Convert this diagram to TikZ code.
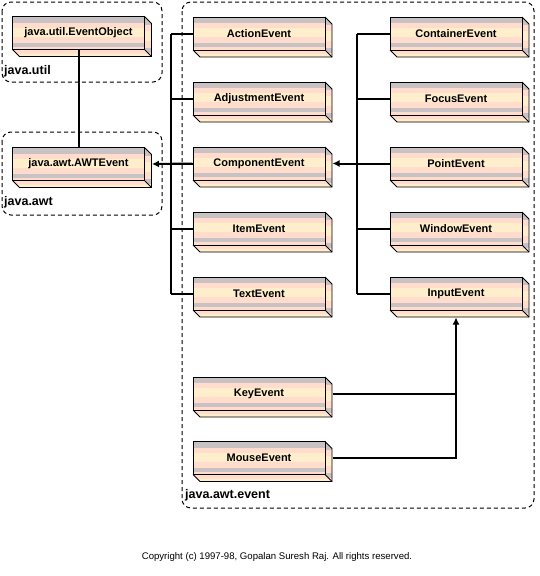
\documentclass[tikz,border=0pt]{standalone}
\usepackage{fontspec}
\setmainfont{Liberation Sans}
\usetikzlibrary{arrows.meta}
\definecolor{boxgray}{RGB}{200,194,196}
\definecolor{boxpink}{RGB}{255,220,204}
\definecolor{boxcream}{RGB}{255,238,204}
\tikzset{
  evbox/.style={draw=black, line width=1pt, minimum width=132pt, minimum height=33pt,
    inner sep=0pt, font=\bfseries\fontsize{11}{13}\selectfont},
  pkgframe/.style={draw=black, line width=1pt, dash pattern=on 4pt off 3pt, rounded corners=9pt},
  pkglabel/.style={anchor=base west, inner sep=0pt, font=\bfseries\fontsize{12.5}{14}\selectfont},
  link/.style={draw=black, line width=2pt},
  tip/.style={-{Latex[length=7pt,width=7pt]}}
}
\begin{document}
\begin{tikzpicture}[x=1pt, y=-1pt]
        \useasboundingbox (0,0) rectangle (539,576);
        % package frames
        \draw[pkgframe] (2,2) rectangle (162,82);
        \draw[pkgframe] (2,132) rectangle (162,215);
        \draw[pkgframe] (182,2) rectangle (534,508);
        \node[pkglabel] (utillbl) at (4,74) {java.util};
        \node[pkglabel] (awtlbl) at (4,205) {java.awt};
        \node[pkglabel] (eventlbl) at (185,498) {java.awt.event};
        % bus lines
        \coordinate (midbus) at (171,0);
        \coordinate (rightbus) at (357,0);
        % striped 3D boxes
        \foreach \n/\x/\y/\t in {obj/78.5/33/java.util.EventObject, awt/78.5/164/java.awt.AWTEvent,
            action/259/33.5/ActionEvent, adjust/259/98.5/AdjustmentEvent, component/259/163.5/ComponentEvent,
            item/259/228.5/ItemEvent, text/259/293.5/TextEvent, key/259/393.5/KeyEvent, mouse/259/458/MouseEvent,
            container/456/33.5/ContainerEvent, focus/456/98.5/FocusEvent, point/456/163.5/PointEvent,
            window/456/228.5/WindowEvent, input/456/293.5/InputEvent} {
            % front face
            \foreach \a/\b/\c in {0/6/boxgray, 6/11/boxpink, 11/20/boxcream, 20/26/boxpink, 26/30/boxgray, 30/33/boxpink}
                \fill[\c] (\x-66,\y-16.5+\a) rectangle (\x+66,\y-16.5+\b);
            % side face
            \begin{scope}
                \clip (\x+66,\y-16.5) -- ++(7,7) -- (\x+73,\y+23.5) -- (\x+66,\y+16.5) -- cycle;
                \foreach \a/\b/\c in {0/8/boxgray, 8/14/boxpink, 14/24/boxcream, 24/31/boxpink, 31/36/boxgray, 36/41/boxpink}
                    \fill[\c] (\x+66,\y-16.5+\a) rectangle (\x+73,\y-16.5+\b);
            \end{scope}
            % bottom face
            \fill[boxpink] (\x-66,\y+16.5) -- (\x-59,\y+23.5) -- (\x+73,\y+23.5) -- (\x+66,\y+16.5) -- cycle;
            \fill[boxcream] (\x-62,\y+20.5) -- (\x-59,\y+23.5) -- (\x+73,\y+23.5) -- (\x+70,\y+20.5) -- cycle;
            \draw[line width=0.8pt] (\x+66,\y-16.5) -- ++(7,7) -- (\x+73,\y+23.5) -- (\x-59,\y+23.5) -- (\x-66,\y+16.5);
            \draw[line width=0.8pt] (\x+66,\y+16.5) -- (\x+73,\y+23.5);
            \node[evbox] (\n) at (\x,\y) {\t};
        }
        % java.awt.AWTEvent extends java.util.EventObject
        \draw[link] (awt.north) -- (obj.south);
        % middle column
        \draw[link] (action.west -| midbus) -- (text.west -| midbus);
        \foreach \n in {action,adjust,component,item,text}
            \draw[link] (\n.west -| midbus) -- (\n.west);
        \draw[link,tip] (component.west) -- ([xshift=7pt]awt.east);
        % right column
        \draw[link] (container.west -| rightbus) -- (input.west -| rightbus);
        \foreach \n in {container,focus,point,window,input}
            \draw[link] (\n.west -| rightbus) -- (\n.west);
        \draw[link,tip] (component.east -| rightbus) -- ([xshift=7pt]component.east);
        % input events
        \draw[link] ([xshift=7pt]key.east) -- (key.east -| input.south);
        \draw[link,tip] ([xshift=7pt]mouse.east) -| ([yshift=-7pt]input.south);
        \node[font=\fontsize{9.6}{11}\selectfont] (copy) at (277,557) {Copyright (c) 1997-98, Gopalan Suresh Raj. All rights reserved.};
\end{tikzpicture}
\end{document}
